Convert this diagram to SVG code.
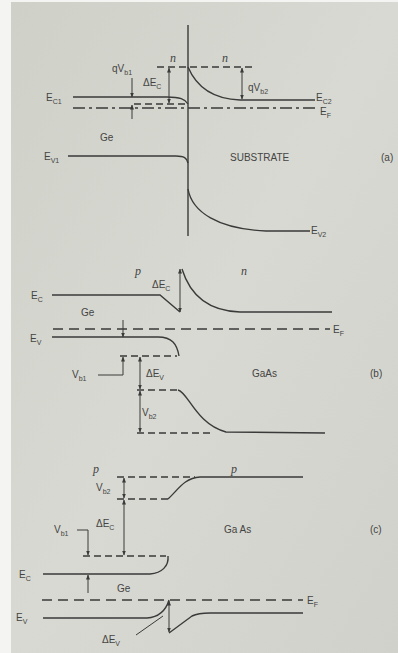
<svg xmlns="http://www.w3.org/2000/svg" width="398" height="653" viewBox="0 0 398 653">
<defs>
<marker id="ah" viewBox="0 0 10 10" refX="9" refY="5" markerWidth="5" markerHeight="5" orient="auto-start-reverse" markerUnits="userSpaceOnUse">
<path d="M0,1 L10,5 L0,9 z" fill="#3a3a3a"/>
</marker>
<linearGradient id="bg" x1="0" y1="0" x2="1" y2="1">
<stop offset="0" stop-color="#cfd0c8"/>
<stop offset="0.5" stop-color="#d8d9d2"/>
<stop offset="1" stop-color="#d0d1ca"/>
</linearGradient>
</defs>
<style>
.ln{fill:none;stroke:#3a3a3a;stroke-width:1.4}
.dsh{fill:none;stroke:#3a3a3a;stroke-width:1.3;stroke-dasharray:7 4}
.dd{fill:none;stroke:#3a3a3a;stroke-width:1.3;stroke-dasharray:12 4 3 4}
.ar{fill:none;stroke:#3a3a3a;stroke-width:1;marker-end:url(#ah)}
.ar2{fill:none;stroke:#3a3a3a;stroke-width:1;marker-start:url(#ah);marker-end:url(#ah)}
text{font-family:"Liberation Sans",Arial,sans-serif;font-size:10px;fill:#444}
.it{font-family:"Liberation Serif",serif;font-style:italic;font-size:12px}
.sb{font-size:7px}
</style>
<rect x="0" y="0" width="398" height="653" fill="#f4f4f2"/>
<rect x="11" y="2" width="387" height="651" fill="url(#bg)"/>

<g id="part-a">
<line class="ln" x1="188" y1="25" x2="188" y2="236"/>
<line class="dsh" x1="157" y1="67" x2="255" y2="67"/>
<text class="it" x="170" y="62">n</text>
<text class="it" x="222" y="62">n</text>
<path class="ln" d="M188,67 C196,86 212,99 240,100 L315,100"/>
<text x="316" y="101">E<tspan class="sb" dy="3">C2</tspan></text>
<line class="ar2" x1="242" y1="68" x2="242" y2="99"/>
<text x="248" y="91">qV<tspan class="sb" dy="3">b2</tspan></text>
<line class="ar2" x1="169" y1="68" x2="169" y2="103"/>
<text x="143" y="86">ΔE<tspan class="sb" dy="3">C</tspan></text>
<text x="112" y="72">qV<tspan class="sb" dy="3">b1</tspan></text>
<line class="ar" x1="132" y1="78" x2="132" y2="97"/>
<line class="ar" x1="132" y1="119" x2="132" y2="105"/>
<path class="ln" d="M73,97 L167,97 C180,97 185,99 188,104"/>
<text x="46" y="101">E<tspan class="sb" dy="3">C1</tspan></text>
<line class="dsh" x1="134" y1="104" x2="186" y2="104"/>
<line class="dd" x1="73" y1="108" x2="318" y2="108"/>
<text x="320" y="115">E<tspan class="sb" dy="3">F</tspan></text>
<text x="100" y="141">Ge</text>
<path class="ln" d="M68,156 L176,156 C184,156 187,158 188,163"/>
<text x="44" y="160">E<tspan class="sb" dy="3">V1</tspan></text>
<text x="230" y="161">SUBSTRATE</text>
<text x="381" y="161">(a)</text>
<path class="ln" d="M188,189 C192,212 218,229 266,231 L310,231"/>
<text x="311" y="234">E<tspan class="sb" dy="3">V2</tspan></text>
</g>

<g id="part-b">
<text class="it" x="135" y="275">p</text>
<text class="it" x="241" y="275">n</text>
<text x="31" y="299">E<tspan class="sb" dy="3">C</tspan></text>
<path class="ln" d="M52,295 L160,295 L180,312"/>
<line class="ar2" x1="180" y1="269" x2="180" y2="312"/>
<path class="ln" d="M182,269 C190,295 208,311 240,312 L332,312"/>
<text x="152" y="288">ΔE<tspan class="sb" dy="3">C</tspan></text>
<text x="81" y="316">Ge</text>
<line class="dsh" x1="53" y1="329" x2="330" y2="329" style="stroke-dasharray:10 6"/>
<text x="333" y="333">E<tspan class="sb" dy="3">F</tspan></text>
<line class="ar" x1="123" y1="320" x2="123" y2="337"/>
<text x="30" y="342">E<tspan class="sb" dy="3">V</tspan></text>
<path class="ln" d="M52,337 L158,337 C172,337 177,344 179,356"/>
<line class="dsh" x1="120" y1="356" x2="177" y2="356"/>
<path class="ar" d="M98,375 L123,375 L123,357"/>
<text x="72" y="378">V<tspan class="sb" dy="3">b1</tspan></text>
<line class="ar2" x1="140" y1="357" x2="140" y2="389"/>
<text x="146" y="377">ΔE<tspan class="sb" dy="3">V</tspan></text>
<line class="ar2" x1="140" y1="391" x2="140" y2="432"/>
<text x="142" y="416">V<tspan class="sb" dy="3">b2</tspan></text>
<line class="dsh" x1="137" y1="390" x2="178" y2="390"/>
<path class="ln" d="M178,390 C188,392 196,424 226,432 L325,433"/>
<line class="dsh" x1="137" y1="433" x2="214" y2="433"/>
<text x="252" y="377">GaAs</text>
<text x="370" y="377">(b)</text>
</g>

<g id="part-c">
<text class="it" x="93" y="473">p</text>
<text class="it" x="231" y="473">p</text>
<line class="dsh" x1="117" y1="477" x2="195" y2="477"/>
<path class="ln" d="M168,499 C178,490 184,478 200,477 L303,477"/>
<line class="dsh" x1="117" y1="499" x2="168" y2="499"/>
<text x="96" y="491">V<tspan class="sb" dy="3">b2</tspan></text>
<line class="ar2" x1="124" y1="478" x2="124" y2="498"/>
<text x="96" y="527">ΔE<tspan class="sb" dy="3">C</tspan></text>
<line class="ar2" x1="124" y1="500" x2="124" y2="555"/>
<text x="54" y="533">V<tspan class="sb" dy="3">b1</tspan></text>
<path class="ar" d="M77,530 L88,530 L88,555"/>
<line class="dsh" x1="83" y1="556" x2="166" y2="556"/>
<path class="ln" d="M43,574 L150,574 C162,573 169,566 168,556"/>
<text x="19" y="578">E<tspan class="sb" dy="3">C</tspan></text>
<line class="ar" x1="88" y1="593" x2="88" y2="575"/>
<text x="117" y="592">Ge</text>
<line class="dsh" x1="42" y1="600" x2="303" y2="600" style="stroke-dasharray:10 6"/>
<text x="307" y="604">E<tspan class="sb" dy="3">F</tspan></text>
<text x="16" y="621">E<tspan class="sb" dy="3">V</tspan></text>
<path class="ln" d="M43,618 L147,618 C160,617 166,610 169,600"/>
<line class="ar2" x1="169" y1="601" x2="169" y2="632"/>
<path class="ln" d="M169,633 L192,616 C198,613 204,613 210,613 L303,613"/>
<line class="ln" x1="136" y1="635" x2="163" y2="616" style="stroke-width:1"/>
<text x="102" y="643">ΔE<tspan class="sb" dy="3">V</tspan></text>
<text x="224" y="533">Ga As</text>
<text x="370" y="533">(c)</text>
</g>
</svg>
